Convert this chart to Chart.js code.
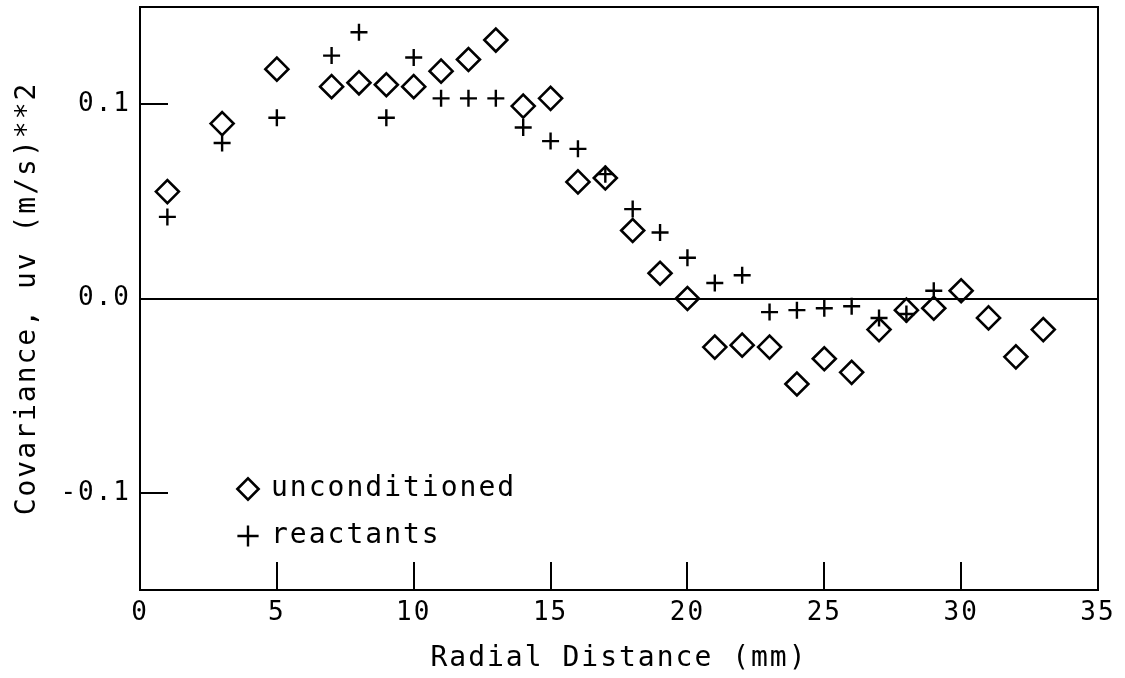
<!DOCTYPE html>
<html>
<head>
<meta charset="utf-8">
<script src="https://cdn.jsdelivr.net/npm/chart.js@4/dist/chart.umd.min.js"></script>
<style>
  html, body { margin: 0; padding: 0; background: #fff; }
  #wrap { width: 1125px; height: 678px; position: relative; background: #fff; }
</style>
</head>
<body>
<div id="wrap"><canvas id="c"></canvas></div>
<script>
// ---- data ----
const uncondX = [1, 3, 5, 7, 8, 9, 10, 11, 12, 13, 14, 15, 16, 17, 18, 19, 20, 21, 22, 23, 24, 25, 26, 27, 28, 29, 30, 31, 32, 33];
const uncondY = [0.055, 0.090, 0.118, 0.109, 0.111, 0.110, 0.109, 0.117, 0.123, 0.133, 0.099, 0.103, 0.060, 0.062, 0.035, 0.013, 0.000, -0.025, -0.024, -0.025, -0.044, -0.031, -0.038, -0.016, -0.006, -0.005, 0.004, -0.010, -0.030, -0.016];
const reactX = [1, 3, 5, 7, 8, 9, 10, 11, 12, 13, 14, 15, 16, 17, 18, 19, 20, 21, 22, 23, 24, 25, 26, 27, 28, 29];
const reactY = [0.042, 0.080, 0.093, 0.125, 0.137, 0.093, 0.124, 0.103, 0.103, 0.103, 0.088, 0.081, 0.077, 0.064, 0.046, 0.034, 0.021, 0.008, 0.012, -0.007, -0.006, -0.005, -0.004, -0.010, -0.008, 0.004];
const xTickValues = [0, 5, 10, 15, 20, 25, 30, 35];
const yTickValues = [-0.1, 0.0, 0.1];
const seriesNames = ['unconditioned', 'reactants'];
const xTitle = 'Radial Distance (mm)';
const yTitle = 'Covariance, uv (m/s)**2';

const FONT = "'DejaVu Sans Mono', 'Liberation Mono', monospace";
Chart.defaults.font.family = FONT;
Chart.defaults.color = '#000';

const toPts = (xs, ys) => xs.map((x, i) => ({ x: x, y: ys[i] }));

const noPad = s => { s.paddingLeft = 0; s.paddingRight = 0; s.paddingTop = 0; s.paddingBottom = 0; };

const framePlugin = {
  id: 'frame',
  beforeLayout(chart) { chart.ctx.letterSpacing = '2px'; },
  beforeDraw(chart) {
    const ctx = chart.ctx;
    ctx.letterSpacing = '2px';
    const a = chart.chartArea;
    // place legend in lower-left of plot area
    const lg = chart.legend;
    if (lg) {
      lg.left = a.left + 80;
      lg.top = a.top + 449;
      lg.right = lg.left + 400;
      lg.bottom = lg.top + 200;
    }
  },
  afterDatasetsDraw(chart) {
    const ctx = chart.ctx, a = chart.chartArea;
    ctx.save();
    ctx.strokeStyle = '#000';
    ctx.lineWidth = 2;
    ctx.strokeRect(a.left, a.top, a.right - a.left, a.bottom - a.top);
    ctx.restore();
  }
};

new Chart(document.getElementById('c'), {
  type: 'scatter',
  data: {
    datasets: [
      {
        label: seriesNames[0],
        data: toPts(uncondX, uncondY),
        pointStyle: 'rectRot',
        pointRadius: 11.5,
        pointHoverRadius: 11.5,
        borderColor: '#000',
        backgroundColor: 'rgba(255,255,255,0)',
        borderWidth: 2.6
      },
      {
        label: seriesNames[1],
        data: toPts(reactX, reactY),
        pointStyle: 'cross',
        pointRadius: 8.5,
        pointHoverRadius: 8.5,
        borderColor: '#000',
        backgroundColor: '#000',
        borderWidth: 2.4
      }
    ]
  },
  options: {
    responsive: true,
    maintainAspectRatio: false,
    animation: false,
    layout: { autoPadding: false, padding: { top: 7, right: 27, left: 0, bottom: 0 } },
    plugins: {
      legend: {
        position: 'chartArea',
        align: 'start',
        labels: {
          usePointStyle: true,
          boxWidth: 18,
          boxHeight: 15,
          padding: 19,
          color: '#000',
          font: { size: 28, family: FONT }
        }
      },
      tooltip: { enabled: false }
    },
    scales: {
      x: {
        type: 'linear',
        min: 0,
        max: 35,
        afterFit: s => { s.height = 88; noPad(s); },
        afterBuildTicks: s => { s.ticks = xTickValues.map(v => ({ value: v })); },
        border: { display: true, color: '#000', width: 2 },
        grid: { drawOnChartArea: false, drawTicks: true, tickLength: -28, color: '#000', tickColor: '#000', lineWidth: 2 },
        ticks: { padding: 36, font: { size: 26, family: FONT }, color: '#000', maxRotation: 0 },
        title: { display: true, text: xTitle, font: { size: 28, family: FONT }, color: '#000', padding: { top: 0, bottom: 2 } }
      },
      y: {
        type: 'linear',
        min: -0.15,
        max: 0.15,
        afterFit: s => { s.width = 140; noPad(s); },
        afterBuildTicks: s => { s.ticks = yTickValues.map(v => ({ value: v })); },
        border: { display: true, color: '#000', width: 2 },
        grid: {
          drawOnChartArea: true,
          drawTicks: true,
          tickLength: -28,
          tickColor: '#000',
          lineWidth: 2,
          color: c => (c.tick && c.tick.value === 0 ? '#000' : 'rgba(0,0,0,0)')
        },
        ticks: {
          padding: 37,
          font: { size: 26, family: FONT },
          color: '#000',
          callback: v => v.toFixed(1)
        },
        title: { display: true, text: yTitle, font: { size: 28, family: FONT }, color: '#000', padding: { top: 11, bottom: 0 } }
      }
    }
  },
  plugins: [framePlugin]
});
</script>
</body>
</html>
